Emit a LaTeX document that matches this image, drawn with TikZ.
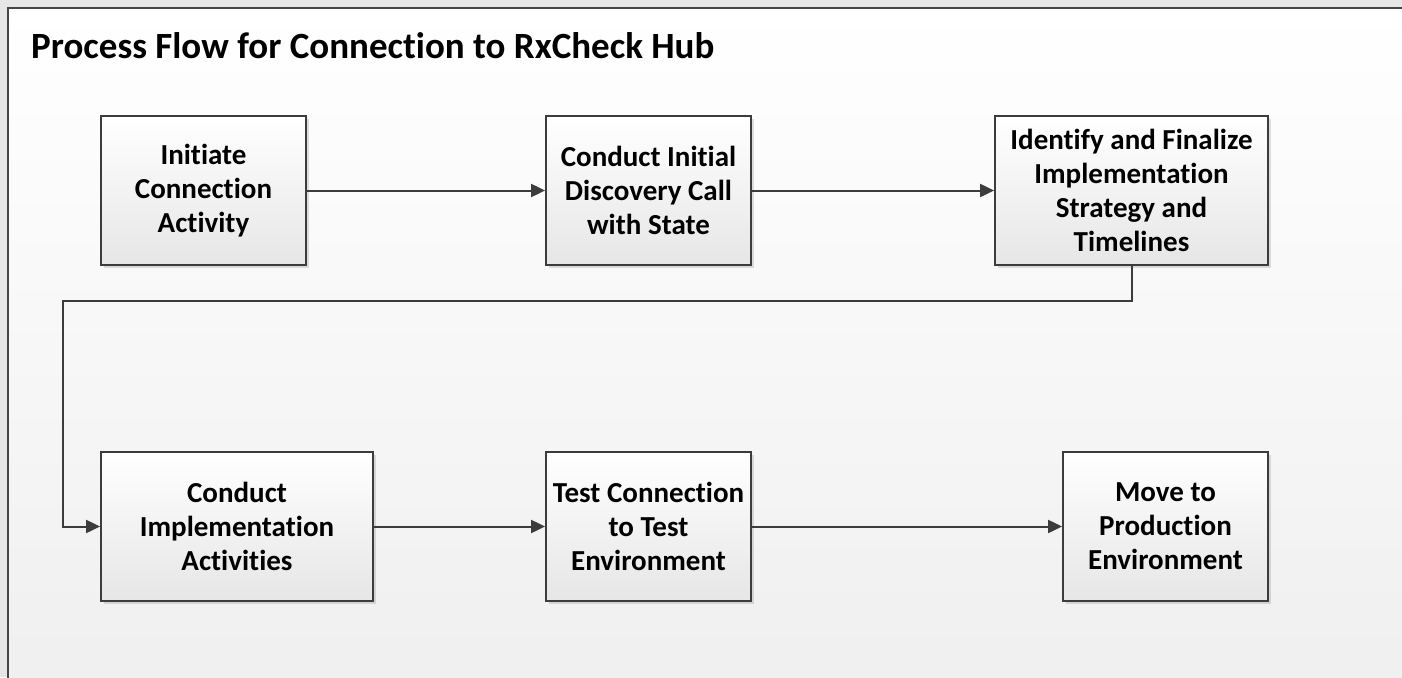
\documentclass[tikz,border=0pt]{standalone}
\usepackage{fontspec}
\setmainfont{Carlito}[Ligatures=NoCommon]
\usetikzlibrary{arrows.meta,shadows}
\definecolor{linegray}{HTML}{3C3C3C}
\definecolor{framegray}{HTML}{454545}
\definecolor{outergray}{HTML}{E6E6E6}
\definecolor{innerbottom}{HTML}{EFEFEF}
\definecolor{boxbottom}{HTML}{E6E6E6}
\tikzset{
  procbox/.style={draw=linegray, line width=1.8pt, top color=white, bottom color=boxbottom,
    minimum height=149pt, inner sep=0pt, align=center,
    font=\fontsize{29}{34}\selectfont\bfseries,
    drop shadow={shadow xshift=3pt, shadow yshift=-3pt, fill=black, opacity=0.12}},
  flowarrow/.style={draw=linegray, line width=2pt, -{Triangle[length=14pt,width=13pt]}},
  titletext/.style={font=\fontsize{37}{44}\selectfont\bfseries, inner sep=0pt, anchor=base west}
}
\begin{document}
\begin{tikzpicture}[x=1pt,y=-1pt]
\useasboundingbox (0,0) rectangle (1402,677);
\clip (0,0) rectangle (1402,677);
\fill[outergray] (0,0) rectangle (1402,677);
\shade[top color=white, bottom color=innerbottom] (8,8) rectangle (1420,700);
\draw[framegray, line width=2pt] (8,700) -- (8,8) -- (1420,8);

\node[titletext] (title) at (31,59) {Process Flow for Connection to RxCheck Hub};

\node[procbox, minimum width=205pt] (b1) at (203.5,190.5) {Initiate\\Connection\\Activity};
\node[procbox, minimum width=205pt] (b2) at (648.5,190.5) {Conduct Initial\\Discovery Call\\with State};
\node[procbox, minimum width=273pt] (b3) at (1131.5,190.5) {Identify and Finalize\\Implementation\\Strategy and\\Timelines};
\node[procbox, minimum width=272pt] (b4) at (237,526.5) {Conduct\\Implementation\\Activities};
\node[procbox, minimum width=205pt] (b5) at (648.5,526.5) {Test Connection\\to Test\\Environment};
\node[procbox, minimum width=205pt] (b6) at (1165.5,526.5) {Move to\\Production\\Environment};

\coordinate (k1) at (63,301);
\draw[flowarrow] (b1) -- (b2);
\draw[flowarrow] (b2) -- (b3);
\draw[flowarrow] (b3.south) |- (k1) |- (b4.west);
\draw[flowarrow] (b4) -- (b5);
\draw[flowarrow] (b5) -- (b6);
\end{tikzpicture}
\end{document}
